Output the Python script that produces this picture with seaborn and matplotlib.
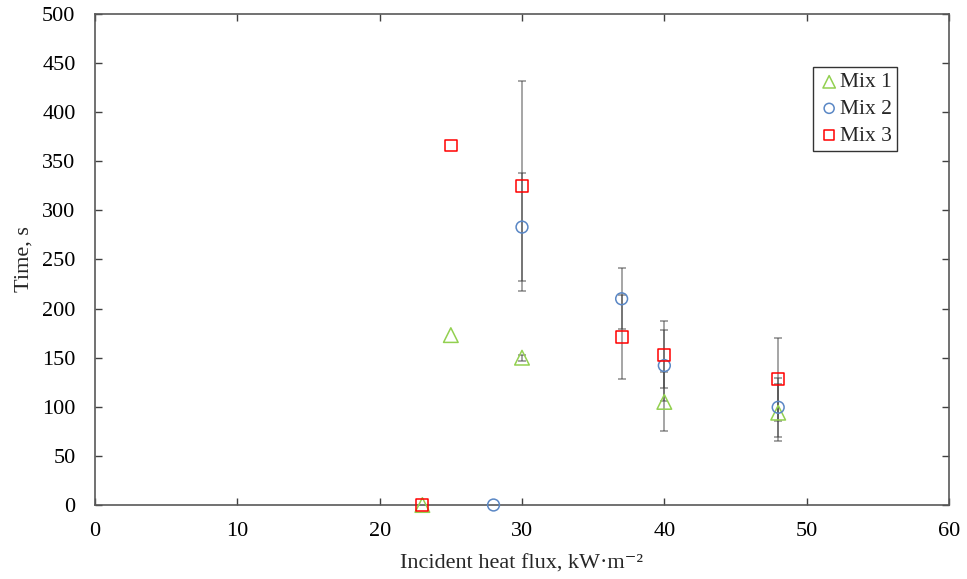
import numpy as np
import pandas as pd
import matplotlib
matplotlib.use("Agg")
import matplotlib.pyplot as plt
import seaborn as sns

# Data
mix1_x = [23, 25, 30, 40, 48]
mix1_y = [0, 173, 150, 105, 94]
mix1_err = [0, 0, 3, 30, 29]

mix2_x = [28, 30, 37, 40, 48]
mix2_y = [0, 283, 210, 142, 99.5]
mix2_err = [0, 55, 31, 36, 30]

mix3_x = [23, 25, 30, 37, 40, 48]
mix3_y = [0, 366, 325, 171, 153, 128]
mix3_err = [0, 0, 107, 43, 34, 42]

series_names = ["Mix 1", "Mix 2", "Mix 3"]
x_ticks = [0, 10, 20, 30, 40, 50, 60]
y_ticks = [0, 50, 100, 150, 200, 250, 300, 350, 400, 450, 500]

sns.set_style("white")
plt.rcParams['font.family'] = ['Liberation Serif', 'DejaVu Serif']

fig = plt.figure(figsize=(9.67, 5.79), dpi=100)
ax = fig.add_axes([95/967, 1 - 505/579, (949-95)/967, (505-14)/579])

frames = []
for name, xs, ys, es in zip(series_names, [mix1_x, mix2_x, mix3_x],
                            [mix1_y, mix2_y, mix3_y], [mix1_err, mix2_err, mix3_err]):
    frames.append(pd.DataFrame({"x": xs, "y": ys, "err": es, "series": name}))
df = pd.concat(frames, ignore_index=True)

# error bars first
for name in series_names:
    d = df[(df.series == name) & (df.err > 0)]
    ax.errorbar(d.x, d.y, yerr=d.err, fmt='none', ecolor='#404040', alpha=0.55,
                elinewidth=1.2, capsize=3, capthick=1.2, zorder=2)

styles = {"Mix 1": ("^", "#92D050", 10.5),
          "Mix 2": ("o", "#5A87C5", 8.5),
          "Mix 3": ("s", "#FF0000", 8.5)}
for name in series_names:
    m, c, s = styles[name]
    d = df[df.series == name]
    sns.scatterplot(data=d, x="x", y="y", ax=ax, marker=m, s=s**2,
                    facecolors='none', edgecolor=c, linewidth=1.1, label=name, zorder=3,
                    clip_on=False)

ax.set_xlim(0, 60)
ax.set_ylim(0, 500)
ax.set_xticks(x_ticks)
ax.set_yticks(y_ticks)
ax.tick_params(direction='in', length=5, width=1, colors='#404040', labelcolor='black',
               labelsize=16, top=True, right=True, left=True, bottom=True)
ax.tick_params(axis='y', pad=14)
ax.tick_params(axis='x', pad=12)
for sp in ax.spines.values():
    sp.set_color('#595959')
    sp.set_linewidth(1.2)
    sp.set_visible(True)

ax.set_xlabel("Incident heat flux, kW·m⁻²", fontsize=16, labelpad=10)
ax.set_ylabel("Time, s", fontsize=16, labelpad=6)

leg = ax.legend(loc='upper left', bbox_to_anchor=((813-95)/854, 1 - (67-14)/491),
                fontsize=15.5, frameon=True, fancybox=False, handletextpad=0.0,
                handlelength=1.0, borderpad=0.25, labelspacing=0.3, borderaxespad=0,
                markerscale=0.85)
leg.get_frame().set_edgecolor('black')
leg.get_frame().set_linewidth(1.0)

fig.savefig("out.png", dpi=100)
